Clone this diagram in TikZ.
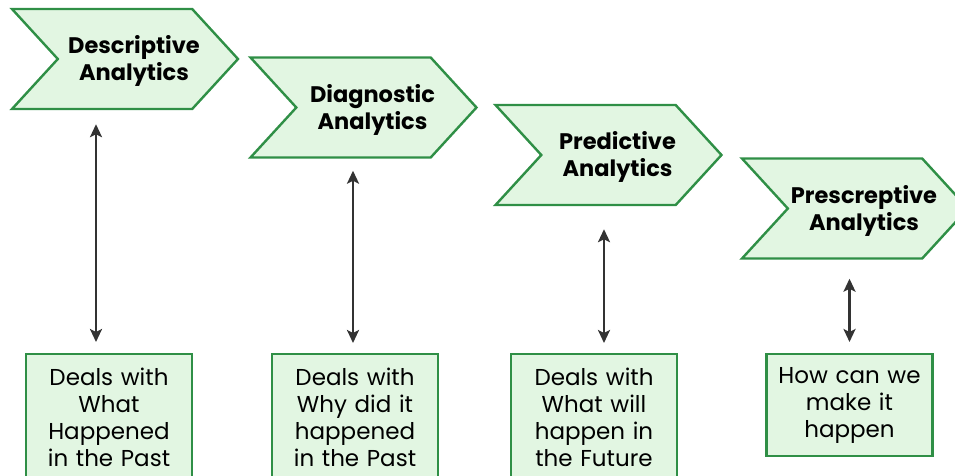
\documentclass[tikz,border=0pt]{standalone}
\usepackage{fontspec}
\setmainfont{Poppins}
\usetikzlibrary{shapes.symbols,arrows.meta}
\definecolor{leafgreen}{HTML}{2F8F46}
\definecolor{mintfill}{HTML}{E2F6E2}
\definecolor{arrowgray}{HTML}{333333}
\tikzset{
  stage/.style={signal, signal from=west, signal to=east, signal pointer angle=95,
    draw=leafgreen, fill=mintfill, line width=2.4pt, minimum width=226pt, minimum height=100pt,
    label={[xshift=9pt, yshift=-2pt, align=center, font=\bfseries\fontsize{22.5}{27}\selectfont]center:#1}},
  notebox/.style={draw=leafgreen, fill=mintfill, line width=2.4pt, minimum width=166pt,
    text width=154pt, align=center, anchor=north, font=\fontsize{23}{27}\selectfont},
  twoway/.style={{Stealth[length=13pt,width=12pt,inset=3pt]}-{Stealth[length=13pt,width=12pt,inset=3pt]},
    color=arrowgray, line width=2.7pt}
}

\begin{document}
\begin{tikzpicture}[x=1pt,y=1pt]
  \useasboundingbox (0,0) rectangle (955,475);
  \clip (0,0) rectangle (955,475);
  % the four stages
  \node[stage={Descriptive\\Analytics}]  (desc)  at (125,416)     {};
  \node[stage={Diagnostic\\Analytics}]   (diag)  at (363.5,367.5) {};
  \node[stage={Predictive\\Analytics}]   (pred)  at (608.5,320)   {};
  \node[stage={Prescreptive\\Analytics}] (presc) at (855,266.5)   {};
  % what each one answers
  \node[notebox, minimum height=126pt] (past)   at (109,122) {Deals with\\What\\Happened\\in the Past};
  \node[notebox, minimum height=126pt] (why)    at (355,122) {Deals with\\Why did it\\happened\\in the Past};
  \node[notebox, minimum height=126pt] (future) at (594,122) {Deals with\\What will\\happen in\\the Future};
  \node[notebox, minimum height=102pt] (how)    at (849.5,122) {How can we\\make it\\happen};
  \path[twoway]
    ([xshift=-13pt]past.north) edge [shorten <=11pt, shorten >=14pt] ([xshift=-13pt]past.north |- desc.south)
    ([xshift=-2pt]why.north) edge [shorten <=10pt, shorten >=12pt] ([xshift=-2pt]why.north |- diag.south)
    ([xshift=10pt]future.north) edge [shorten <=10pt, shorten >=23pt] ([xshift=10pt]future.north |- pred.south)
    (how.north) edge [shorten <=11pt, shorten >=19pt] (how.north |- presc.south);
\end{tikzpicture}
\end{document}
